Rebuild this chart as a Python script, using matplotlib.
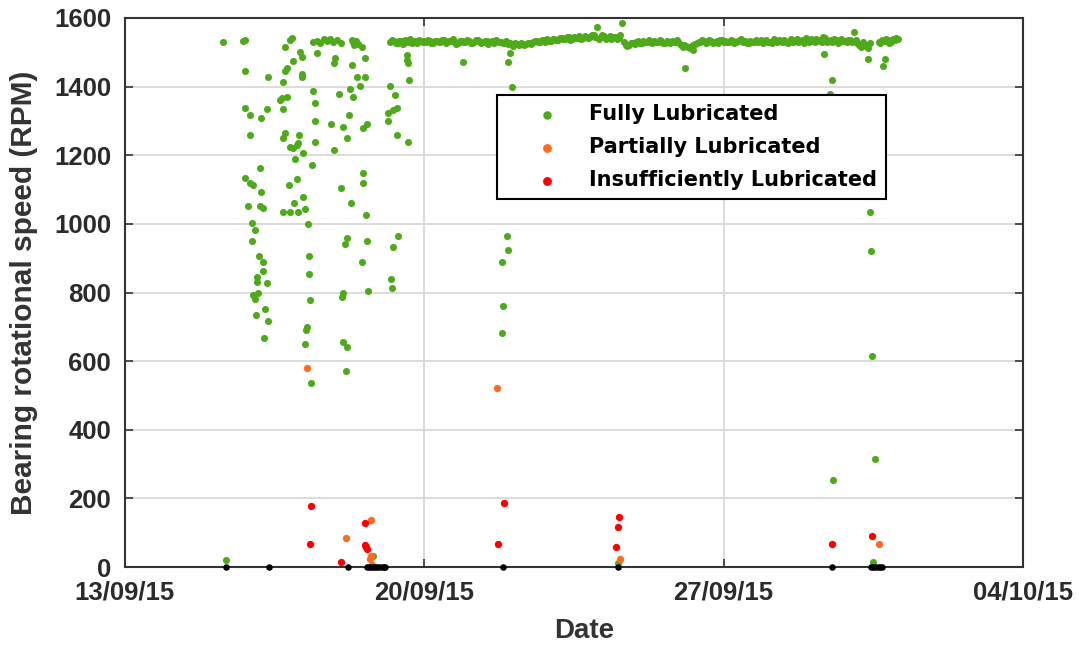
import numpy as np
import pandas as pd
import matplotlib
matplotlib.use("Agg")
import matplotlib.pyplot as plt
import matplotlib.dates as mdates

# Day values are days counted from 31 Aug 2015 (so 31.0 = 1 Oct)
BASE = pd.Timestamp("2015-08-31")

# Fully lubricated: scattered readings during start-up / transients
full_day = [15.29, 15.76, 15.81, 16.74, 16.86, 16.90, 17.09, 17.14, 17.40, 17.49, 17.56,
            17.65, 17.72, 17.80, 17.87, 17.96, 18.05, 18.31, 18.33, 18.36, 18.40, 18.45,
            15.81, 16.34, 16.70, 16.93, 16.79, 16.74, 17.14, 17.14, 17.49, 17.91, 17.89,
            18.54, 18.61, 18.31, 18.43, 18.61, 18.50, 18.26, 19.20, 19.64, 19.59, 19.62, 19.59,
            18.33, 18.00, 17.40, 17.44, 16.67, 16.62, 16.79, 16.70, 15.81, 15.92, 16.18,
            16.32, 17.44, 17.82, 18.10, 18.24, 18.57, 18.66, 18.19, 19.31, 19.15, 19.27,
            19.36, 19.15, 19.36, 19.62, 15.92, 16.70, 16.74, 17.07, 16.86, 16.93, 17.02,
            17.05, 17.16, 16.98, 17.44, 17.89,
            17.37, 16.16, 15.81, 15.92, 15.99, 16.18, 16.84, 17.02, 15.88, 16.16, 16.23,
            16.70, 16.86, 17.05, 17.16, 17.21, 16.95, 17.28, 18.05, 18.29, 18.57, 18.57,
            18.64, 15.97,
            16.04, 15.97, 16.13, 16.23, 16.23, 16.09, 16.09, 16.32, 17.30, 17.30, 17.33,
            18.19, 18.14, 18.66, 19.38, 19.27, 18.54, 19.22, 19.24, 18.10, 18.07, 18.68,
            15.99, 16.04, 16.11, 16.27, 16.34, 16.06, 16.25, 17.26, 17.23, 17.21, 17.35,
            18.10, 18.19, 18.17,
            15.36, 18.80,
            21.94, 21.96, 21.82, 21.84, 21.82, 24.53, 20.90, 22.00, 21.96, 22.05, 26.10,
            26.28, 29.35, 29.53, 29.49, 30.38, 30.73, 30.77, 29.56, 30.42, 30.45, 30.47,
            30.54, 30.49]
full_rpm = [1530, 1533, 1536, 1516, 1536, 1542, 1501, 1487, 1530, 1534, 1527,
            1538, 1532, 1540, 1529, 1535, 1527, 1536, 1530, 1521, 1533, 1525,
            1446, 1429, 1414, 1475, 1455, 1446, 1437, 1428, 1498, 1484, 1469,
            1516, 1484, 1463, 1428, 1428, 1402, 1393, 1402, 1420, 1478, 1469, 1492,
            1370, 1379, 1388, 1353, 1367, 1361, 1370, 1335, 1338, 1318, 1309,
            1335, 1300, 1291, 1283, 1318, 1280, 1291, 1251, 1376, 1323, 1332,
            1338, 1300, 1259, 1239, 1259, 1251, 1265, 1259, 1224, 1221, 1230,
            1236, 1207, 1189, 1239, 1216,
            1172, 1163, 1134, 1119, 1114, 1093, 1114, 1131, 1052, 1052, 1047,
            1035, 1035, 1035, 1079, 1044, 1061, 1000, 1105, 1061, 1149, 1119,
            1026, 1003,
            982, 950, 907, 889, 863, 845, 831, 828, 907, 854, 778,
            959, 942, 950, 965, 933, 889, 840, 813, 799, 787, 805,
            793, 780, 799, 752, 717, 735, 668, 700, 691, 650, 536,
            656, 641, 571,
            20, 32,
            965, 924, 889, 761, 682, 12, 1472, 1499, 1472, 1399, 1455,
            1507, 1496, 1420, 1379, 1481, 1460, 1481, 254, 1035, 921, 615,
            315, 15]

# Fully lubricated: steady running, logged hourly (even and odd hours)
band_a_start = "2015-09-19 05:00"
band_a_even = [1530, 1534, 1528, 1532, 1536, 1530, 1527, 1533, 1535, 1529, 1531, 1534, 1528,
               1532, 1530, 1535, 1529, 1533, 1531, 1527, 1534,
               1530, 1532, 1528, 1535, 1531, 1529, 1533, 1530, 1527, 1534, 1531, 1528,
               1524, 1522, 1526, 1521, 1525, 1523,
               1527, 1530, 1533, 1529, 1535, 1538, 1532, 1540, 1536, 1542, 1538, 1545,
               1540, 1543, 1548, 1541, 1546, 1544, 1550, 1574,
               1545, 1548, 1542, 1540, 1546, 1541, 1586, 1522,
               1520, 1526, 1530, 1528, 1533, 1531, 1529, 1534, 1530, 1532,
               1528, 1531, 1533, 1530, 1526, 1515, 1518,
               1512, 1520, 1527, 1530, 1533,
               1530, 1534, 1531, 1528, 1535, 1532, 1529, 1533, 1531, 1536, 1530, 1528,
               1534, 1531, 1529, 1535, 1532, 1530, 1527, 1533, 1536, 1531, 1529, 1534,
               1530, 1538, 1532, 1528, 1535, 1540, 1531, 1536, 1529, 1542, 1533, 1530,
               1537, 1529, 1534, 1531, 1536,
               1560, 1528, 1515, 1520, 1513]
band_a_odd = [1536, 1527, 1533, 1524, 1531, 1538, 1529, 1526, 1534, 1532, 1537, 1526, 1533,
              1529, 1536, 1528, 1532, 1538, 1525, 1533, 1530,
              1535, 1526, 1531, 1537, 1528, 1534, 1525, 1532, 1536, 1529, 1527, 1533,
              1528, 1519, 1524, 1527, 1520, 1526,
              1524, 1533, 1529, 1536, 1531, 1534, 1540, 1535, 1543, 1539, 1545, 1537,
              1546, 1542, 1539, 1547, 1543, 1549, 1545, 1540,
              1550, 1539, 1547, 1544, 1538, 1549, 1530, 1519,
              1528, 1523, 1533, 1526, 1530, 1536, 1527, 1531, 1535, 1528,
              1534, 1527, 1529, 1535, 1522, 1520, 1514,
              1517, 1524, 1530, 1535, 1528,
              1535, 1528, 1533, 1537, 1529, 1531, 1536, 1527, 1534, 1538, 1532, 1526,
              1530, 1537, 1533, 1528, 1535, 1531, 1538, 1529, 1532, 1535, 1527, 1539,
              1533, 1530, 1536, 1541, 1529, 1534, 1538, 1532, 1544, 1530, 1535, 1539,
              1528, 1540, 1533, 1537, 1531,
              1535, 1521, 1530, 1517, 1527]
band_b_start = "2015-09-30 15:00"
band_b_even = [1530, 1535, 1540, 1528, 1538, 1542]
band_b_odd = [1526, 1533, 1537, 1531, 1535, 1539]

# Partially lubricated
partial_day = [17.26, 21.70, 18.17, 18.75, 18.75, 18.73, 18.78, 24.58, 30.63]
partial_rpm = [580, 521, 84, 137, 32, 23, 6, 23, 67]

# Insufficiently lubricated
insuff_day = [17.35, 17.33, 18.61, 18.61, 18.63, 18.66, 18.05, 21.87, 21.72,
              24.55, 24.53, 24.48, 29.53, 30.47]
insuff_rpm = [178, 67, 128, 64, 58, 52, 15, 187, 67, 146, 117, 58, 67, 90]

# Stopped (0 RPM)
stop_day = [15.36, 16.37, 18.22, 18.66, 18.70, 18.75, 18.80, 18.85, 18.90, 18.95,
            19.00, 19.05, 19.08, 21.84, 24.53, 29.53, 30.45, 30.50, 30.55, 30.60,
            30.65, 30.70]

tick_dates = ["2015-09-13", "2015-09-20", "2015-09-27", "2015-10-04"]


def to_dates(days):
    return BASE + pd.to_timedelta(np.asarray(days), unit="D")


def hourly(start, even, odd):
    t0 = pd.Timestamp(start)
    t_even = pd.date_range(t0, periods=len(even), freq="2h")
    t_odd = pd.date_range(t0 + pd.Timedelta(hours=1), periods=len(odd), freq="2h")
    return t_even.append(t_odd), list(even) + list(odd)


plt.rcParams["font.family"] = ["Liberation Sans", "DejaVu Sans"]

fig, ax = plt.subplots(figsize=(10.79, 6.49), dpi=100)
fig.subplots_adjust(left=0.1158, right=0.9481, top=0.9723, bottom=0.1263)

green = "#4FAA1B"
orange = "#FF6A1F"
red = "#FF0000"

band_a_t, band_a_rpm = hourly(band_a_start, band_a_even, band_a_odd)
band_b_t, band_b_rpm = hourly(band_b_start, band_b_even, band_b_odd)

ax.scatter(to_dates(full_day), full_rpm, s=26, color=green, linewidths=0, zorder=3,
           label="Fully Lubricated")
ax.scatter(band_a_t, band_a_rpm, s=26, color=green, linewidths=0, zorder=3)
ax.scatter(band_b_t, band_b_rpm, s=26, color=green, linewidths=0, zorder=3)
ax.scatter(to_dates(partial_day), partial_rpm, s=28, color=orange, linewidths=0, zorder=4,
           label="Partially Lubricated")
ax.scatter(to_dates(insuff_day), insuff_rpm, s=28, color=red, linewidths=0, zorder=4,
           label="Insufficiently Lubricated")
ax.scatter(to_dates(stop_day), np.zeros(len(stop_day)), s=22, color="black", linewidths=0,
           zorder=5, clip_on=False)

ax.set_xlim(pd.Timestamp(tick_dates[0]), pd.Timestamp(tick_dates[-1]))
ax.set_ylim(0, 1600)
ax.set_xticks(pd.to_datetime(tick_dates))
ax.xaxis.set_major_formatter(mdates.DateFormatter("%d/%m/%y"))
ax.set_yticks(range(0, 1601, 200))

ax.grid(True, color="#d9d9d9", linewidth=1.3, zorder=0)
ax.set_axisbelow(True)
for sp in ax.spines.values():
    sp.set_linewidth(1.5)
    sp.set_color("#333333")
ax.tick_params(direction="in", length=6, width=1.2, top=True, right=True,
               labelsize=18.5, pad=10, labelcolor="#2b2b2b", color="#333333")
for lab in ax.get_xticklabels() + ax.get_yticklabels():
    lab.set_fontweight("bold")

ax.set_ylabel("Bearing rotational speed (RPM)", fontsize=21.5, fontweight="bold", color="#333333")
ax.set_xlabel("Date", fontsize=20, fontweight="bold", color="#333333")
ax.yaxis.set_label_coords(-0.097, 0.5)
ax.xaxis.set_label_coords(0.511, -0.093)

leg = ax.legend(loc="upper left", bbox_to_anchor=(0.414, 0.860), fancybox=False,
                edgecolor="black", framealpha=1, borderpad=0.45, handlelength=3.9,
                handletextpad=0.06, labelspacing=0.62, borderaxespad=0,
                prop={"family": "DejaVu Sans", "weight": "bold", "size": 15},
                markerscale=1.2)
leg.get_frame().set_linewidth(1.5)

fig.savefig("out.png", dpi=100)
